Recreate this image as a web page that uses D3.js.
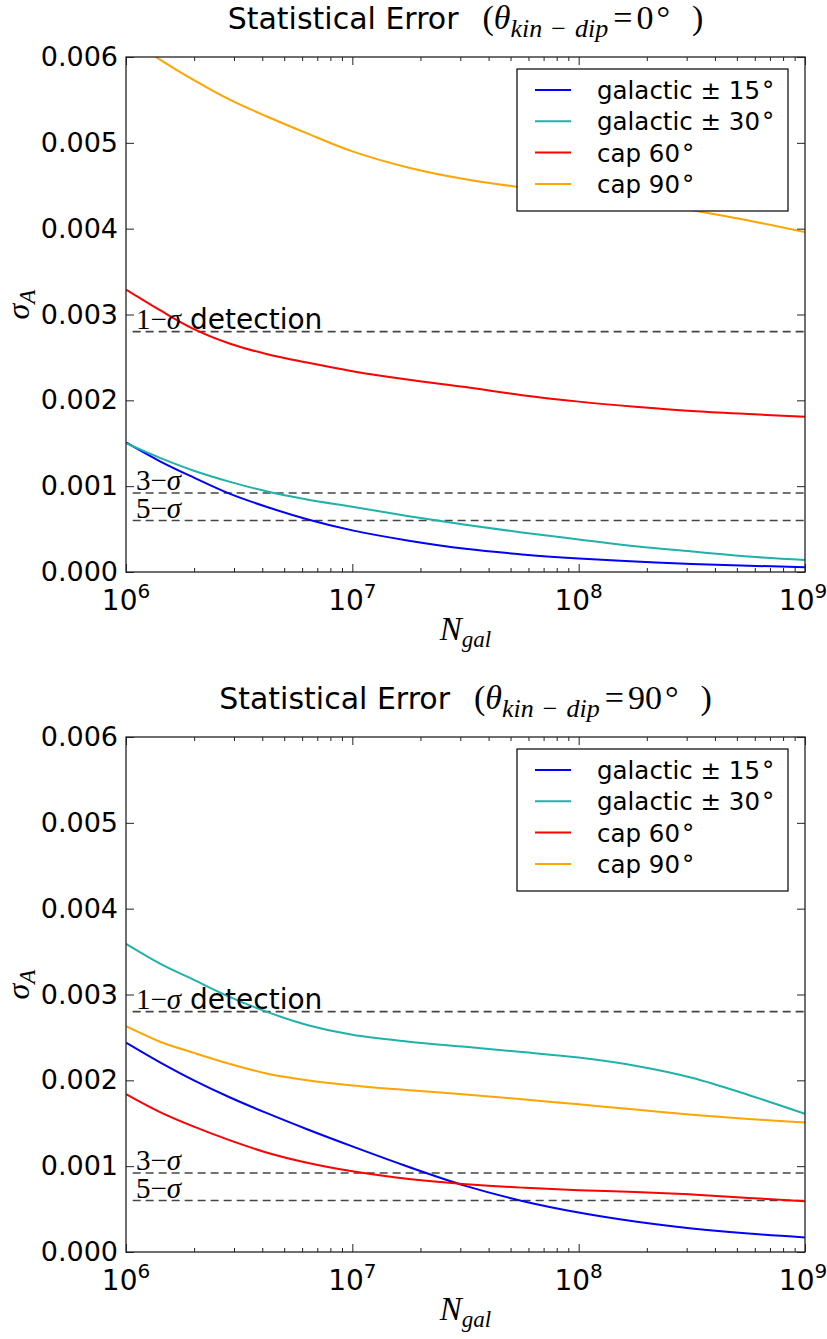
<!DOCTYPE html>
<html>
<head>
<meta charset="utf-8">
<script src="https://cdn.jsdelivr.net/npm/d3@7"></script>
<style>
  body { margin: 0; background: #fff; }
  svg { display: block; }
</style>
</head>
<body>
<script>
// galaxy counts sampled along the x axis
const nGal = [1e6, 1.413e6, 1.995e6, 2.884e6, 4.169e6, 6.31e6, 1e7, 1.778e7, 3.162e7, 5.623e7, 1e8, 1.778e8, 3.162e8, 5.623e8, 1e9];

// theta_kin-dip = 0 deg
const gal15_0  = [0.00151, 0.00129, 0.00110, 0.00091, 0.00076, 0.000615, 0.000485, 0.000365, 0.00027, 0.000205, 0.000158, 0.000122, 0.000094, 0.000073, 0.000056];
const gal30_0  = [0.00150, 0.00133, 0.00118, 0.00105, 0.00094, 0.000845, 0.00076, 0.00065, 0.00055, 0.00046, 0.00038, 0.00030, 0.00024, 0.00018, 0.00014];
const cap60_0  = [0.00329, 0.00305, 0.00283, 0.00266, 0.00254, 0.00244, 0.00234, 0.00224, 0.002155, 0.00206, 0.001985, 0.001925, 0.001875, 0.00184, 0.00181];
const cap90_0  = [0.00623, 0.00597, 0.00573, 0.00550, 0.00531, 0.00511, 0.00490, 0.00471, 0.004575, 0.00448, 0.00440, 0.004315, 0.004215, 0.004095, 0.00396];

// theta_kin-dip = 90 deg
const gal15_90 = [0.00244, 0.00221, 0.00200, 0.00180, 0.00162, 0.00143, 0.00123, 0.00099, 0.00077, 0.000595, 0.00046, 0.000355, 0.000275, 0.000215, 0.00017];
const gal30_90 = [0.00359, 0.00336, 0.00317, 0.00297, 0.00280, 0.002645, 0.00253, 0.00245, 0.00239, 0.00233, 0.002265, 0.00217, 0.00203, 0.00183, 0.00161];
const cap60_90 = [0.00184, 0.00163, 0.00146, 0.00130, 0.00116, 0.00104, 0.00094, 0.00085, 0.00079, 0.00075, 0.00072, 0.00070, 0.00067, 0.00063, 0.00059];
const cap90_90 = [0.00263, 0.00245, 0.00232, 0.00219, 0.00208, 0.00200, 0.00194, 0.001885, 0.001835, 0.00178, 0.00172, 0.00166, 0.00160, 0.00155, 0.00151];

const seriesNames = ["galactic ± 15", "galactic ± 30", "cap 60", "cap 90"];
const seriesColors = ["#0000ff", "#20b2aa", "#ff0000", "#ffa500"];

// detection thresholds (dashed lines)
const sigmaLevels = [0.0028, 0.00092, 0.0006];
const sigmaLabels = ["1", "3", "5"];
const sigmaX = [1.07e6, 1e9];

const yTicks = [0, 0.001, 0.002, 0.003, 0.004, 0.005, 0.006];
const xTicks = [1e6, 1e7, 1e8, 1e9];
const xExponents = ["6", "7", "8", "9"];
const panelAngles = ["0", "90"];

const W = 827, H = 1339;
const margin = {left: 126, right: 22};
const plotW = W - margin.left - margin.right;
const plotH = 515;
const panelTops = [57, 737];

const sans = "DejaVu Sans";
const serif = "Liberation Serif";

const x = d3.scaleLog().domain([1e6, 1e9]).range([0, plotW]);
const y = d3.scaleLinear().domain([0, 0.006]).range([plotH, 0]);

const minorTicks = [];
for (let e = 6; e < 9; e++) for (let k = 2; k <= 9; k++) minorTicks.push(k * Math.pow(10, e));

const svg = d3.select("body").append("svg")
    .attr("width", W)
    .attr("height", H)
    .attr("font-family", sans);

const line = d3.line()
    .x(d => x(d[0]))
    .y(d => y(d[1]))
    .curve(d3.curveCatmullRom.alpha(0.5));

function panel(i, series) {
  const g = svg.append("g").attr("transform", `translate(${margin.left},${panelTops[i]})`);

  g.append("clipPath").attr("id", "clip" + i)
    .append("rect").attr("width", plotW).attr("height", plotH);

  // dashed threshold lines
  g.append("g")
    .selectAll("path")
    .data(sigmaLevels)
    .join("path")
      .attr("d", d => `M${x(sigmaX[0])},${y(d)}H${x(sigmaX[1])}`)
      .attr("stroke", "#444")
      .attr("stroke-width", 1.6)
      .attr("stroke-dasharray", "8,5")
      .attr("fill", "none");

  // curves
  g.append("g")
      .attr("clip-path", `url(#clip${i})`)
      .attr("fill", "none")
      .attr("stroke-width", 2)
    .selectAll("path")
    .data(series)
    .join("path")
      .attr("stroke", (d, j) => seriesColors[j])
      .attr("d", d => line(d3.zip(nGal, d)));

  // threshold labels
  sigmaLevels.forEach((lv, j) => {
    const t = g.append("text")
        .attr("x", 10)
        .attr("y", y(lv) - 3)
        .attr("font-size", 29)
        .attr("font-family", serif);
    t.append("tspan").text(sigmaLabels[j] + "−");
    t.append("tspan").attr("font-style", "italic").text("σ");
    if (j === 0) t.append("tspan").attr("font-family", sans).attr("font-size", 28).text(" detection");
  });

  // axes with inward ticks
  g.append("g")
      .call(d3.axisLeft(y).tickValues(yTicks).tickSize(-8).tickPadding(8).tickFormat(d3.format(".3f")))
      .call(a => a.select(".domain").remove())
      .call(a => a.selectAll("text").attr("font-size", 27).attr("font-family", sans).attr("fill", "#000"));
  g.append("g")
      .attr("transform", `translate(${plotW},0)`)
      .call(d3.axisRight(y).tickValues(yTicks).tickSize(-8).tickFormat(""))
      .call(a => a.select(".domain").remove());
  [[d3.axisBottom, plotH], [d3.axisTop, 0]].forEach(([ax, ty]) => {
    g.append("g")
        .attr("transform", `translate(0,${ty})`)
        .call(ax(x).tickValues(xTicks).tickSize(-8).tickFormat(""))
        .call(a => a.select(".domain").remove());
    g.append("g")
        .attr("transform", `translate(0,${ty})`)
        .call(ax(x).tickValues(minorTicks).tickSize(-4).tickFormat(""))
        .call(a => a.select(".domain").remove());
  });
  g.selectAll(".tick line").attr("stroke", "#222").attr("stroke-width", 1);

  // x tick labels 10^n
  g.append("g")
    .selectAll("text")
    .data(xTicks)
    .join("text")
      .attr("x", (d, k) => x(d) - (k === 3 ? 2 : 0))
      .attr("y", plotH + 38)
      .attr("text-anchor", "middle")
      .attr("font-size", 28)
      .call(t => t.append("tspan").text("10"))
      .call(t => t.append("tspan").attr("font-size", 20).attr("dy", -12).text((d, k) => xExponents[k]));

  // frame
  g.append("rect")
      .attr("width", plotW)
      .attr("height", plotH)
      .attr("fill", "none")
      .attr("stroke", "#222")
      .attr("stroke-width", 1.3);

  // legend
  const lg = g.append("g").attr("transform", "translate(391,12)");
  lg.append("rect")
      .attr("width", 271)
      .attr("height", 142)
      .attr("fill", "#fff")
      .attr("stroke", "#000")
      .attr("stroke-width", 1.2);
  seriesNames.forEach((name, j) => {
    const ry = 21 + j * 31.3;
    lg.append("line")
        .attr("x1", 18).attr("x2", 54)
        .attr("y1", ry).attr("y2", ry)
        .attr("stroke", seriesColors[j])
        .attr("stroke-width", 2);
    const t = lg.append("text")
        .attr("x", 80)
        .attr("y", ry + 9)
        .attr("font-size", 24.5);
    t.append("tspan").text(name);
    t.append("tspan").attr("dx", 2).text("°");
  });

  // title
  const tt = svg.append("text")
      .attr("x", margin.left + plotW / 2)
      .attr("y", panelTops[i] - 28)
      .attr("text-anchor", "middle")
      .attr("font-size", 30);
  tt.append("tspan").text("Statistical Error");
  const m = tt.append("tspan").attr("font-family", serif).attr("font-size", 34);
  m.append("tspan").attr("dx", 24).text("(");
  m.append("tspan").attr("font-style", "italic").text("θ");
  m.append("tspan").attr("font-style", "italic").attr("font-size", 26).attr("dy", 8).text("kin");
  m.append("tspan").attr("font-size", 26).attr("dx", 9).text("−");
  m.append("tspan").attr("font-style", "italic").attr("font-size", 26).attr("dx", 9).text("dip");
  m.append("tspan").attr("dy", -8).attr("dx", 5).text("=");
  m.append("tspan").attr("dx", 4).text(panelAngles[i]);
  m.append("tspan").attr("dx", 3).text("°");
  m.append("tspan").attr("dx", 22).text(")");

  // x label
  const xl = g.append("text")
      .attr("x", plotW / 2)
      .attr("y", plotH + 68)
      .attr("text-anchor", "middle")
      .attr("font-family", serif)
      .attr("font-style", "italic")
      .attr("font-size", 33);
  xl.append("tspan").text("N");
  xl.append("tspan").attr("font-size", 23).attr("dy", 7).text("gal");

  // y label
  const yl = g.append("text")
      .attr("transform", `translate(-97,${plotH / 2 - 10}) rotate(-90)`)
      .attr("text-anchor", "middle")
      .attr("font-family", serif)
      .attr("font-style", "italic")
      .attr("font-size", 32);
  yl.append("tspan").text("σ");
  yl.append("tspan").attr("font-size", 23).attr("dy", 6).text("A");
}

panel(0, [gal15_0, gal30_0, cap60_0, cap90_0]);
panel(1, [gal15_90, gal30_90, cap60_90, cap90_90]);
</script>
</body>
</html>
